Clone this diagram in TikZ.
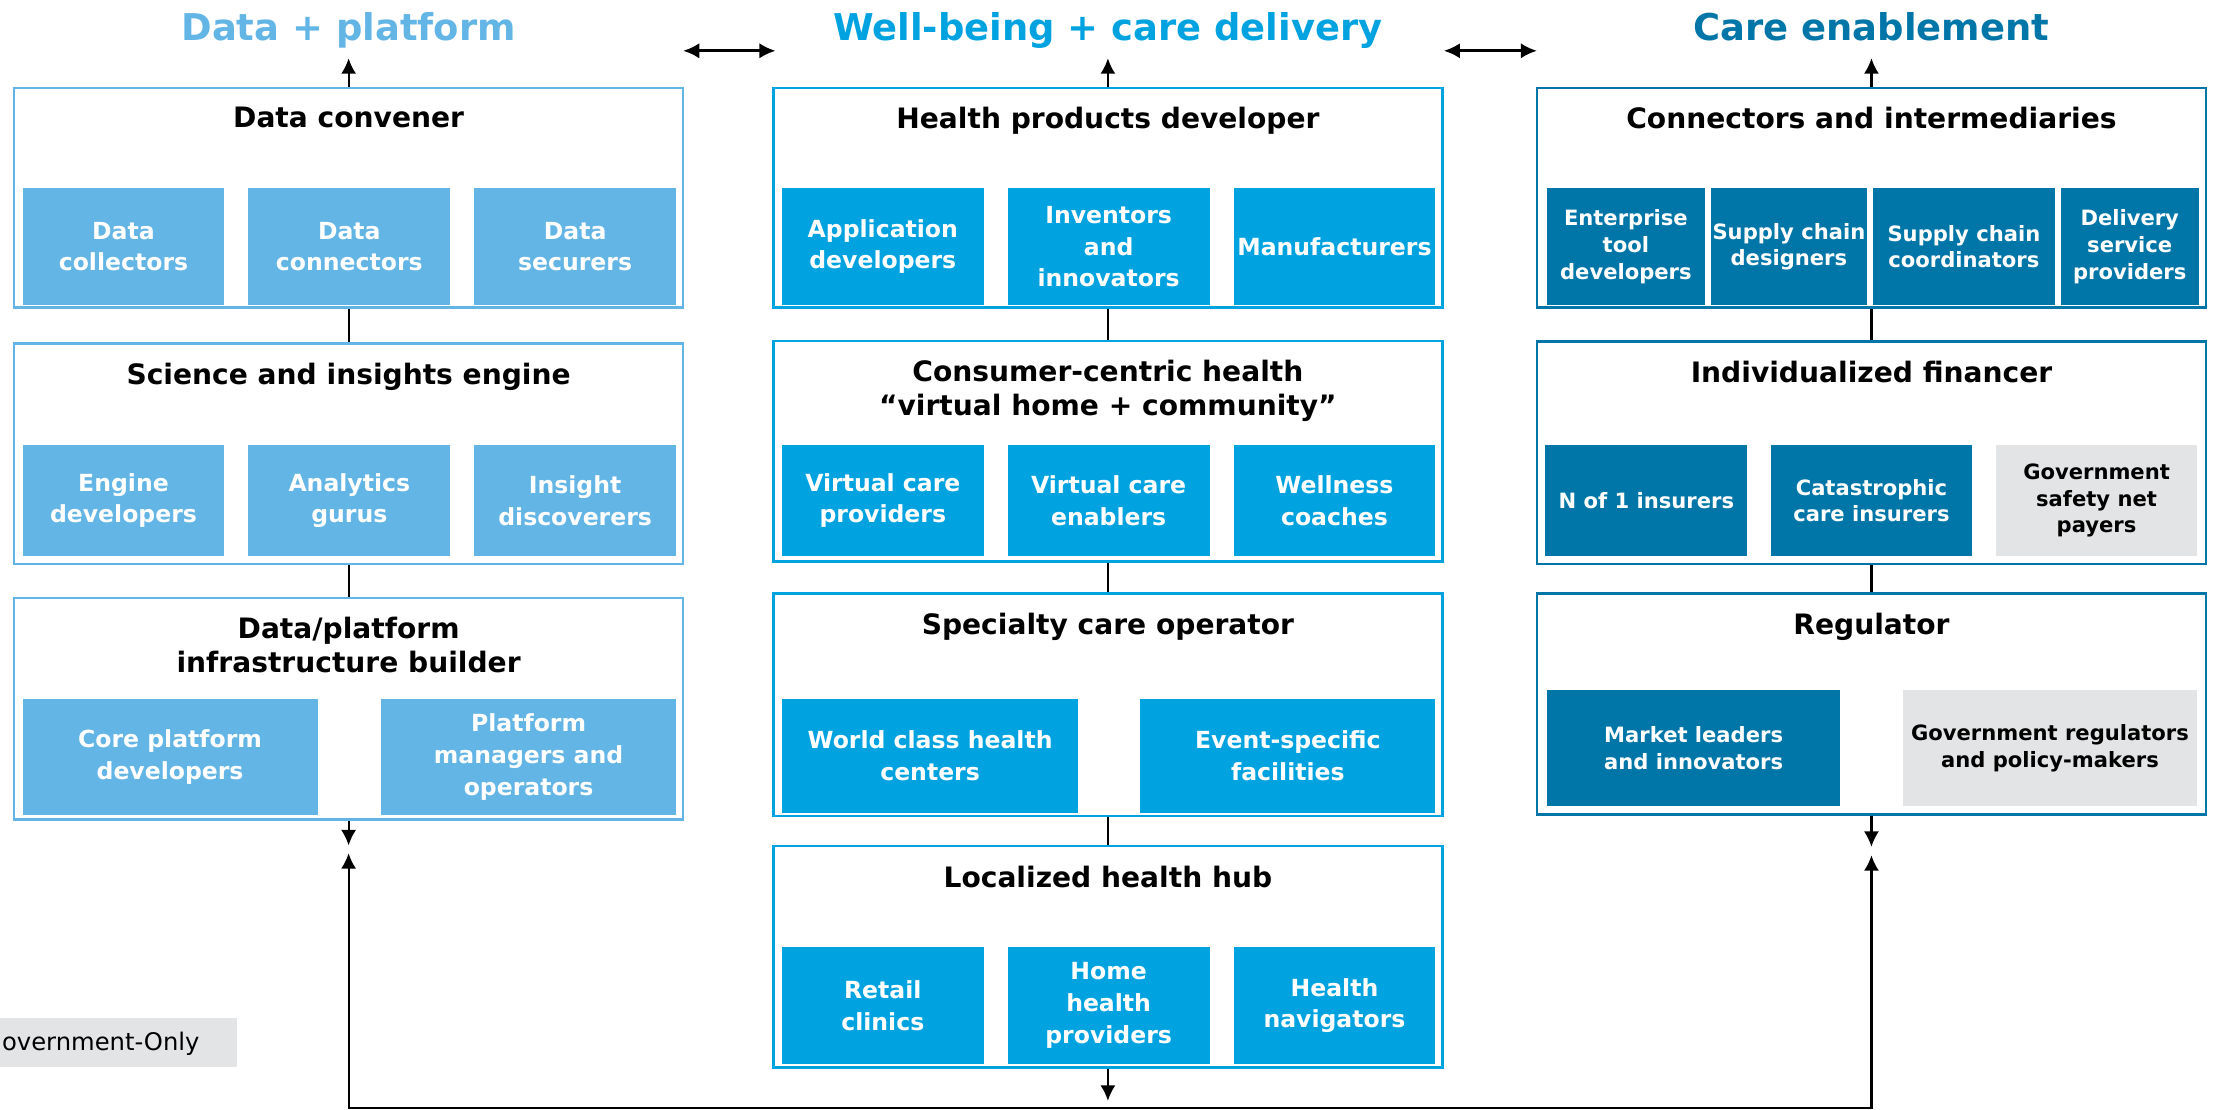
\documentclass[tikz,border=0pt]{standalone}
\usepackage{fontspec}
\setmainfont{DejaVu Sans}
\usetikzlibrary{arrows.meta,fit}
\definecolor{dpblue}{HTML}{62B5E5}
\definecolor{wbblue}{HTML}{00A3E0}
\definecolor{ceblue}{HTML}{0076A8}
\definecolor{govgray}{HTML}{E3E4E5}
\tikzset{
  colbox/.style={draw=#1, line width=0.7pt, inner sep=0pt},
  subbox/.style={fill=#1, inner sep=0pt},
  subtext/.style={text=white, inner sep=0pt, align=center, font=\bfseries\fontsize{6.7}{9}\selectfont},
  cetext/.style={subtext, font=\bfseries\fontsize{6}{7.6}\selectfont},
  govtext/.style={cetext, text=black},
  boxtitle/.style={anchor=north, inner sep=0pt, align=center, font=\bfseries\fontsize{8}{9.6}\selectfont},
  header/.style={anchor=north, inner sep=0pt, text=#1, font=\bfseries\fontsize{10.5}{12}\selectfont},
  link/.style={line width=0.6pt},
  arr/.style={-{Latex[length=4.4pt,width=4.3pt]}, line width=0.6pt},
  dblarr/.style={{Latex[length=4.6pt,width=4.4pt]}-{Latex[length=4.6pt,width=4.4pt]}, line width=0.8pt}
}
\begin{document}
\begin{tikzpicture}[x=0.014113cm, y=-0.014113cm]
\useasboundingbox (0,0) rectangle (1568,786);
\node (dph) [header=dpblue] at (247,8.3) {Data + platform};
\node (wbh) [header=wbblue] at (785,8.3) {Well-being + care delivery};
\node (ceh) [header=ceblue] at (1326,8.3) {Care enablement};
\coordinate (lnka) at (484,36);
\coordinate (lnkb) at (549.5,36);
\coordinate (lnkc) at (1023,36);
\coordinate (lnkd) at (1089,36);
\draw [dblarr] (lnka) -- (lnkb);
\draw [dblarr] (lnkc) -- (lnkd);
% data + platform
\node (dcon) [colbox=dpblue, fit={(10,62.2) (484,218)}] {};
\node (dcont) [boxtitle] at (247,75.6) {Data convener};
\node (dcon1) [subbox=dpblue, fit={(16,133.5) (159,216)}] {};
\node (dcon2) [subbox=dpblue, fit={(176,133.5) (319,216)}] {};
\node (dcon3) [subbox=dpblue, fit={(336,133.5) (479,216)}] {};
\node (dcon1t) [subtext] at (dcon1) {Data\\collectors};
\node (dcon2t) [subtext] at (dcon2) {Data\\connectors};
\node (dcon3t) [subtext] at (dcon3) {Data\\securers};
\node (sci) [colbox=dpblue, fit={(10,243.4) (484,399.6)}] {};
\node (scit) [boxtitle] at (247,256.8) {Science and insights engine};
\node (sci1) [subbox=dpblue, fit={(16,315.5) (159,394)}] {};
\node (sci2) [subbox=dpblue, fit={(176,315.5) (319,394)}] {};
\node (sci3) [subbox=dpblue, fit={(336,315.5) (479,394)}] {};
\node (sci1t) [subtext] at (sci1) {Engine\\developers};
\node (sci2t) [subtext] at (sci2) {Analytics\\gurus};
\node (sci3t) [subtext] at (sci3) {Insight\\discoverers};
\node (infra) [colbox=dpblue, fit={(10,423.6) (484,580.5)}] {};
\node (infrat) [boxtitle] at (247,437) {Data/platform\\infrastructure builder};
\node (infra1) [subbox=dpblue, fit={(16,495.3) (225,577.5)}] {};
\node (infra2) [subbox=dpblue, fit={(270,495.3) (479,577.5)}] {};
\node (infra1t) [subtext] at (infra1) {Core platform\\developers};
\node (infra2t) [subtext] at (infra2) {Platform\\managers and\\operators};
% well-being + care delivery
\node (hpd) [colbox=wbblue, fit={(548,62.2) (1022,218)}] {};
\node (hpdt) [boxtitle] at (785,75.6) {Health products developer};
\node (hpd1) [subbox=wbblue, fit={(554,133.5) (697,216)}] {};
\node (hpd2) [subbox=wbblue, fit={(714,133.5) (857,216)}] {};
\node (hpd3) [subbox=wbblue, fit={(874,133.5) (1017,216)}] {};
\node (hpd1t) [subtext] at (hpd1) {Application\\developers};
\node (hpd2t) [subtext] at (hpd2) {Inventors\\and\\innovators};
\node (hpd3t) [subtext] at (hpd3) {Manufacturers};
\node (cons) [colbox=wbblue, fit={(548,241.7) (1022,398)}] {};
\node (const) [boxtitle] at (785,255) {Consumer-centric health\\“virtual home + community”};
\node (cons1) [subbox=wbblue, fit={(554,315.5) (697,394)}] {};
\node (cons2) [subbox=wbblue, fit={(714,315.5) (857,394)}] {};
\node (cons3) [subbox=wbblue, fit={(874,315.5) (1017,394)}] {};
\node (cons1t) [subtext] at (cons1) {Virtual care\\providers};
\node (cons2t) [subtext] at (cons2) {Virtual care\\enablers};
\node (cons3t) [subtext] at (cons3) {Wellness\\coaches};
\node (spec) [colbox=wbblue, fit={(548,420.6) (1022,578)}] {};
\node (spect) [boxtitle] at (785,434) {Specialty care operator};
\node (spec1) [subbox=wbblue, fit={(554,495.3) (764,576)}] {};
\node (spec2) [subbox=wbblue, fit={(808,495.3) (1017,576)}] {};
\node (spec1t) [subtext] at (spec1) {World class health\\centers};
\node (spec2t) [subtext] at (spec2) {Event-specific\\facilities};
\node (hub) [colbox=wbblue, fit={(548,599.5) (1022,756.3)}] {};
\node (hubt) [boxtitle] at (785,613) {Localized health hub};
\node (hub1) [subbox=wbblue, fit={(554,670.8) (697,754)}] {};
\node (hub2) [subbox=wbblue, fit={(714,670.8) (857,754)}] {};
\node (hub3) [subbox=wbblue, fit={(874,670.8) (1017,754)}] {};
\node (hub1t) [subtext] at (hub1) {Retail\\clinics};
\node (hub2t) [subtext] at (hub2) {Home\\health\\providers};
\node (hub3t) [subtext] at (hub3) {Health\\navigators};
% care enablement
\node (conn) [colbox=ceblue, fit={(1089,62.2) (1563,218)}] {};
\node (connt) [boxtitle] at (1326,75.6) {Connectors and intermediaries};
\node (conn1) [subbox=ceblue, fit={(1096,133.5) (1208,216)}] {};
\node (conn2) [subbox=ceblue, fit={(1212,133.5) (1323,216)}] {};
\node (conn3) [subbox=ceblue, fit={(1327,133.5) (1456,216)}] {};
\node (conn4) [subbox=ceblue, fit={(1460,133.5) (1558,216)}] {};
\node (conn1t) [cetext] at (conn1) {Enterprise\\tool\\developers};
\node (conn2t) [cetext] at (conn2) {Supply chain\\designers};
\node (conn3t) [cetext] at (conn3) {Supply chain\\coordinators};
\node (conn4t) [cetext] at (conn4) {Delivery\\service\\providers};
\node (fin) [colbox=ceblue, fit={(1089,242) (1563,399.6)}] {};
\node (fint) [boxtitle] at (1326,255.4) {Individualized financer};
\node (fin1) [subbox=ceblue, fit={(1095,315.5) (1238,394)}] {};
\node (fin2) [subbox=ceblue, fit={(1255,315.5) (1397,394)}] {};
\node (fin3) [subbox=govgray, fit={(1414,315.5) (1557,394)}] {};
\node (fin1t) [cetext] at (fin1) {N of 1 insurers};
\node (fin2t) [cetext] at (fin2) {Catastrophic\\care insurers};
\node (fin3t) [govtext] at (fin3) {Government\\safety net\\payers};
\node (reg) [colbox=ceblue, fit={(1089,420.6) (1563,577)}] {};
\node (regt) [boxtitle] at (1326,434) {Regulator};
\node (reg1) [subbox=ceblue, fit={(1096,489) (1304,571)}] {};
\node (reg2) [subbox=govgray, fit={(1348,489) (1557,571)}] {};
\node (reg1t) [cetext] at (reg1) {Market leaders\\and innovators};
\node (reg2t) [govtext] at (reg2) {Government regulators\\and policy-makers};
% legend
\node (gov) [subbox=govgray, fit={(0,721) (168,756.3)}] {};
\node (govt) [anchor=base west, inner sep=0pt, font=\fontsize{6.9}{8}\selectfont] at (1,744.5) {overnment-Only};
% connectors
\coordinate (dptop) at (247,41.3);
\coordinate (wbtop) at (785,41.3);
\coordinate (cetop) at (1326,41.3);
\draw [arr] (dcon.north) -- (dptop);
\draw [arr] (hpd.north) -- (wbtop);
\draw [arr] (conn.north) -- (cetop);
\draw [link] (dcon.south) -- (sci.north);
\draw [link] (sci.south) -- (infra.north);
\draw [link] (hpd.south) -- (cons.north);
\draw [link] (cons.south) -- (spec.north);
\draw [link] (spec.south) -- (hub.north);
\draw [link] (conn.south) -- (fin.north);
\draw [link] (fin.south) -- (reg.north);
\coordinate (dpend) at (247,599);
\coordinate (wbend) at (785,780);
\coordinate (ceend) at (1326,600);
\draw [arr] (infra.south) -- (dpend);
\draw [arr] (hub.south) -- (wbend);
\draw [arr] (reg.south) -- (ceend);
\coordinate (dpin) at (247,604.5);
\coordinate (cein) at (1326,606);
\draw [arr, {Latex[length=4.4pt,width=4.3pt]}-{Latex[length=4.4pt,width=4.3pt]}] (dpin) -- ++(0,180.5) -| (cein);
\end{tikzpicture}
\end{document}
